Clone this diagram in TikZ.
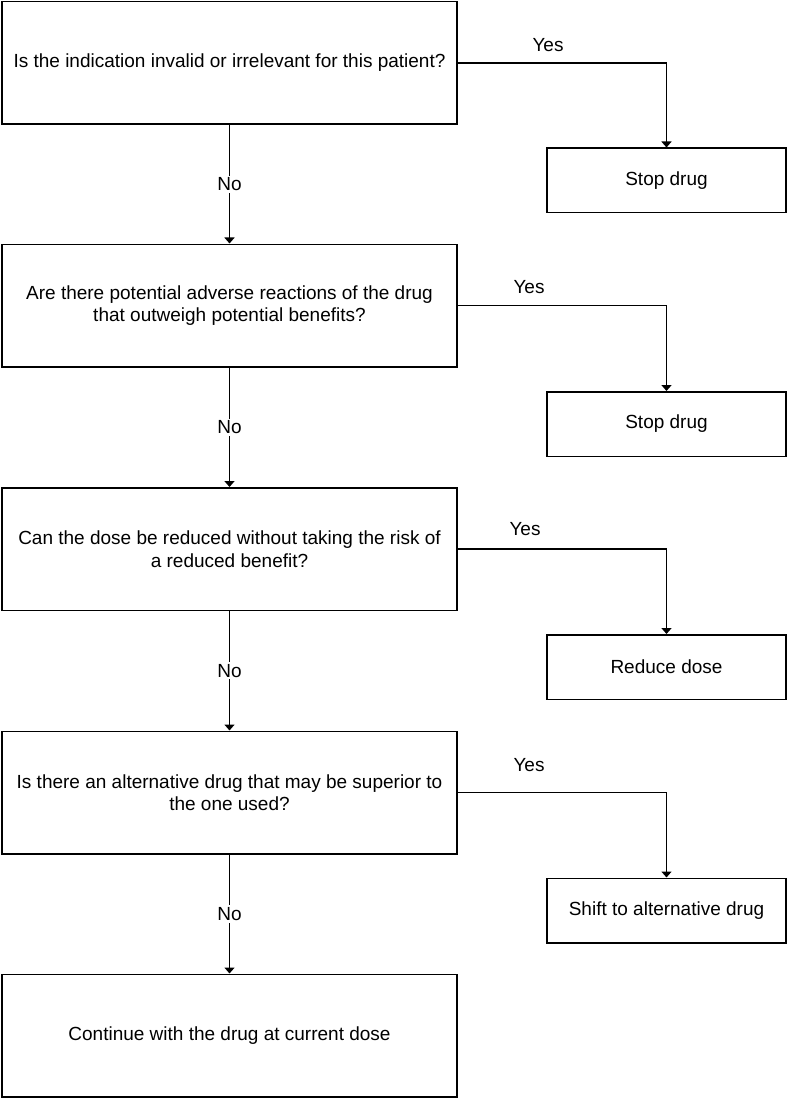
\documentclass[tikz,border=0pt]{standalone}
\usepackage{fontspec}
\setmainfont{Liberation Sans}
\usetikzlibrary{arrows.meta}
\begin{document}
\begin{tikzpicture}[x=1pt,y=-1pt,
  every node/.style={font=\fontsize{19}{22.5}\selectfont, inner sep=0pt},
  qbox/.style={draw, line width=1.5pt, minimum width=455pt, minimum height=122.5pt, align=center},
  abox/.style={draw, line width=1.5pt, minimum width=239pt, minimum height=64.5pt, align=center},
  conn/.style={line width=1.5pt, -{Triangle[width=10pt,length=6pt]}},
  lbl/.style={fill=white, inner sep=2pt}]
\useasboundingbox (0,0) rectangle (787,1099);
\node[qbox] (q1) at (229.5,63) {Is the indication invalid or irrelevant for this patient?};
\node[qbox] (q2) at (229.5,305.5) {Are there potential adverse reactions of the drug\\that outweigh potential benefits?};
\node[qbox] (q3) at (229.5,549) {Can the dose be reduced without taking the risk of\\a reduced benefit?};
\node[qbox] (q4) at (229.5,792.5) {Is there an alternative drug that may be superior to\\the one used?};
\node[qbox] (q5) at (229.5,1035.5) {Continue with the drug at current dose};
\node[abox] (a1) at (666.5,180.5) {Stop drug};
\node[abox] (a2) at (666.5,424) {Stop drug};
\node[abox] (a3) at (666.5,667) {Reduce dose};
\node[abox] (a4) at (666.5,910.5) {Shift to alternative drug};
\draw[conn] (q1.east) -| (a1.north);
\draw[conn] (q2.east) -| (a2.north);
\draw[conn] (q3.east) -| (a3.north);
\draw[conn] (q4.east) -| (a4.north);
\node (y1) at (548,45) {Yes};
\node (y2) at (529,287) {Yes};
\node (y3) at (525,529) {Yes};
\node (y4) at (529,765) {Yes};
\draw[conn] (q1.south) -- node[lbl] {No} (q2.north);
\draw[conn] (q2.south) -- node[lbl] {No} (q3.north);
\draw[conn] (q3.south) -- node[lbl] {No} (q4.north);
\draw[conn] (q4.south) -- node[lbl] {No} (q5.north);
\end{tikzpicture}
\end{document}
